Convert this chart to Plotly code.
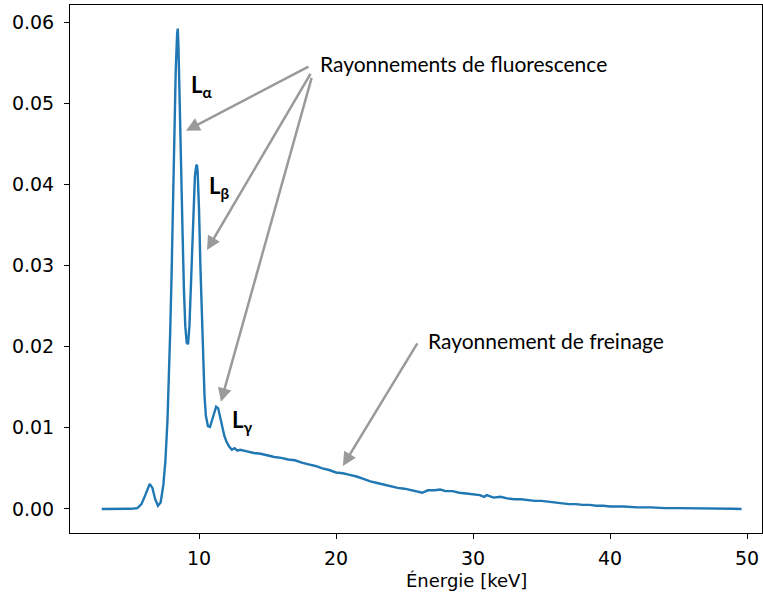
import plotly.graph_objects as go

energy = [2.9, 4.0, 5.0, 5.5, 5.8, 6.1, 6.4, 6.6, 6.8, 7.0, 7.2, 7.4, 7.55, 7.7, 7.8, 7.9,
          8.0, 8.1, 8.2, 8.3, 8.4, 8.45, 8.5, 8.6, 8.7, 8.8, 8.9, 9.0, 9.1, 9.2, 9.3, 9.4,
          9.5, 9.6, 9.7, 9.8, 9.85, 9.9, 10.0, 10.1, 10.2, 10.3, 10.4, 10.5, 10.65, 10.8,
          10.95, 11.1, 11.25, 11.4, 11.55, 11.7, 11.85, 12.0, 12.2, 12.4, 12.6, 12.8, 13.0,
          13.5, 14.0, 14.5, 15.0, 15.5, 16.0, 16.5, 17.0, 17.5, 18.0, 18.5, 19.0, 19.5,
          20.0, 20.5, 21.0, 21.5, 22.0, 22.5, 23.0, 23.5, 24.0, 24.5, 25.0, 25.5, 26.0,
          26.3, 26.7, 27.2, 27.6, 28.0, 28.5, 29.0, 29.5, 30.0, 30.5, 30.8, 31.0, 31.5,
          32.0, 32.5, 33.0, 33.5, 34.0, 34.5, 35.0, 35.5, 36.0, 36.5, 37.0, 37.5, 38.0,
          38.5, 39.0, 39.5, 40.0, 41.0, 42.0, 43.0, 44.0, 45.0, 46.0, 47.0, 48.0, 49.0, 49.6]

intensity = [0.0, 0.0, 0.00002, 0.0001, 0.0006, 0.0018, 0.0031, 0.0026, 0.0012, 0.0004,
             0.0008, 0.0030, 0.0060, 0.0110, 0.0160, 0.0220, 0.0290, 0.0380, 0.0470, 0.0540,
             0.0585, 0.0592, 0.0570, 0.0505, 0.0420, 0.0340, 0.0270, 0.0225, 0.0205, 0.0203,
             0.0225, 0.0270, 0.0310, 0.0370, 0.0410, 0.0423, 0.0424, 0.0415, 0.0370, 0.0300,
             0.0235, 0.0180, 0.0140, 0.0115, 0.0102, 0.0101, 0.0110, 0.0120, 0.0126, 0.0124,
             0.0112, 0.0100, 0.0090, 0.0083, 0.0077, 0.0073, 0.0075, 0.0072, 0.0073, 0.0071,
             0.0069, 0.0068, 0.0066, 0.0064, 0.0063, 0.0061, 0.0060, 0.0057, 0.0055, 0.0053,
             0.0050, 0.0048, 0.0045, 0.0044, 0.0042, 0.0040, 0.0037, 0.0034, 0.0032, 0.0030,
             0.0028, 0.0026, 0.0025, 0.0023, 0.0021, 0.0020, 0.0023, 0.0023, 0.0024, 0.0022,
             0.0022, 0.0020, 0.0019, 0.0018, 0.0017, 0.0015, 0.0017, 0.0014, 0.0015, 0.0013,
             0.0012, 0.0012, 0.0011, 0.0010, 0.0010, 0.0009, 0.0008, 0.0007, 0.0006, 0.0006,
             0.0005, 0.0005, 0.0004, 0.0004, 0.0003, 0.0003, 0.0002, 0.0002, 0.0001, 0.0001,
             0.0001, 0.00005, 0.00003, 0.00002, 0.0]

x_ticks = [10, 20, 30, 40, 50]
y_ticks = [0.00, 0.01, 0.02, 0.03, 0.04, 0.05, 0.06]
y_tick_labels = ["0.00", "0.01", "0.02", "0.03", "0.04", "0.05", "0.06"]

peak_labels = ["<b>L<sub>α</sub></b>", "<b>L<sub>β</sub></b>", "<b>L<sub>γ</sub></b>"]
peak_label_pos = [(9.28, 0.0521), (10.6, 0.0397), (12.25, 0.0108)]

fluo_text = "Rayonnements de fluorescence"
fluo_text_pos = (18.7, 0.0549)
fluo_arrows = [((18.1, 0.0546), (9.05, 0.0466)),
               ((18.2, 0.0538), (10.58, 0.0319)),
               ((18.25, 0.0533), (11.6, 0.0132))]

brems_text = "Rayonnement de freinage"
brems_text_pos = (26.6, 0.0208)
brems_arrow = ((26.0, 0.0206), (20.5, 0.0053))

x_title = "Énergie [keV]"

fig = go.Figure()
fig.add_trace(go.Scatter(x=energy, y=intensity, mode="lines",
                         line=dict(color="#1f77b4", width=2.4), showlegend=False))

ann_font = dict(family="Lato, Open Sans, sans-serif", size=21, color="#000000")
lab_font = dict(family="Lato, Open Sans, sans-serif", size=22, color="#000000")
arrow_color = "#9a9a9a"

for (tail, head) in fluo_arrows + [brems_arrow]:
    fig.add_annotation(x=head[0], y=head[1], ax=tail[0], ay=tail[1],
                       xref="x", yref="y", axref="x", ayref="y",
                       text="", showarrow=True, arrowhead=2, arrowsize=1.1,
                       arrowwidth=2.5, arrowcolor=arrow_color)

fig.add_annotation(x=fluo_text_pos[0], y=fluo_text_pos[1], text=fluo_text,
                   showarrow=False, xanchor="left", yanchor="middle", font=ann_font)
fig.add_annotation(x=brems_text_pos[0], y=brems_text_pos[1], text=brems_text,
                   showarrow=False, xanchor="left", yanchor="middle", font=ann_font)
for lab, (px, py) in zip(peak_labels, peak_label_pos):
    fig.add_annotation(x=px, y=py, text=lab, showarrow=False, xanchor="left",
                       yanchor="middle", font=lab_font)

fig.add_annotation(x=(467 - 70) / 692, y=(533 - 580) / 528, xref="paper", yref="paper",
                   text=x_title, showarrow=False, xanchor="center", yanchor="middle",
                   font=dict(family="DejaVu Sans", size=18, color="#000"))

fig.update_layout(
    width=763, height=598,
    margin=dict(l=70, r=1, t=5, b=65, autoexpand=False),
    plot_bgcolor="white", paper_bgcolor="white",
    font=dict(family="DejaVu Sans", size=19, color="#000"),
    xaxis=dict(range=[0.584, 51.09], tickvals=x_ticks, showgrid=False, zeroline=False,
               showline=True, mirror=True, linecolor="black", linewidth=1,
               ticks="outside", ticklen=5, tickwidth=1, tickcolor="black",
               automargin=False, ticklabeloverflow="allow", ticklabelstandoff=3),
    yaxis=dict(range=[-0.00296, 0.0621], tickvals=y_ticks, ticktext=y_tick_labels,
               showgrid=False, zeroline=False,
               showline=True, mirror=True, linecolor="black", linewidth=1,
               ticks="outside", ticklen=5, tickwidth=1, tickcolor="black",
               automargin=False, ticklabelstandoff=6),
)

fig.write_html("out.html", config={"displayModeBar": False},
               post_script="document.body.style.margin='0px';")
